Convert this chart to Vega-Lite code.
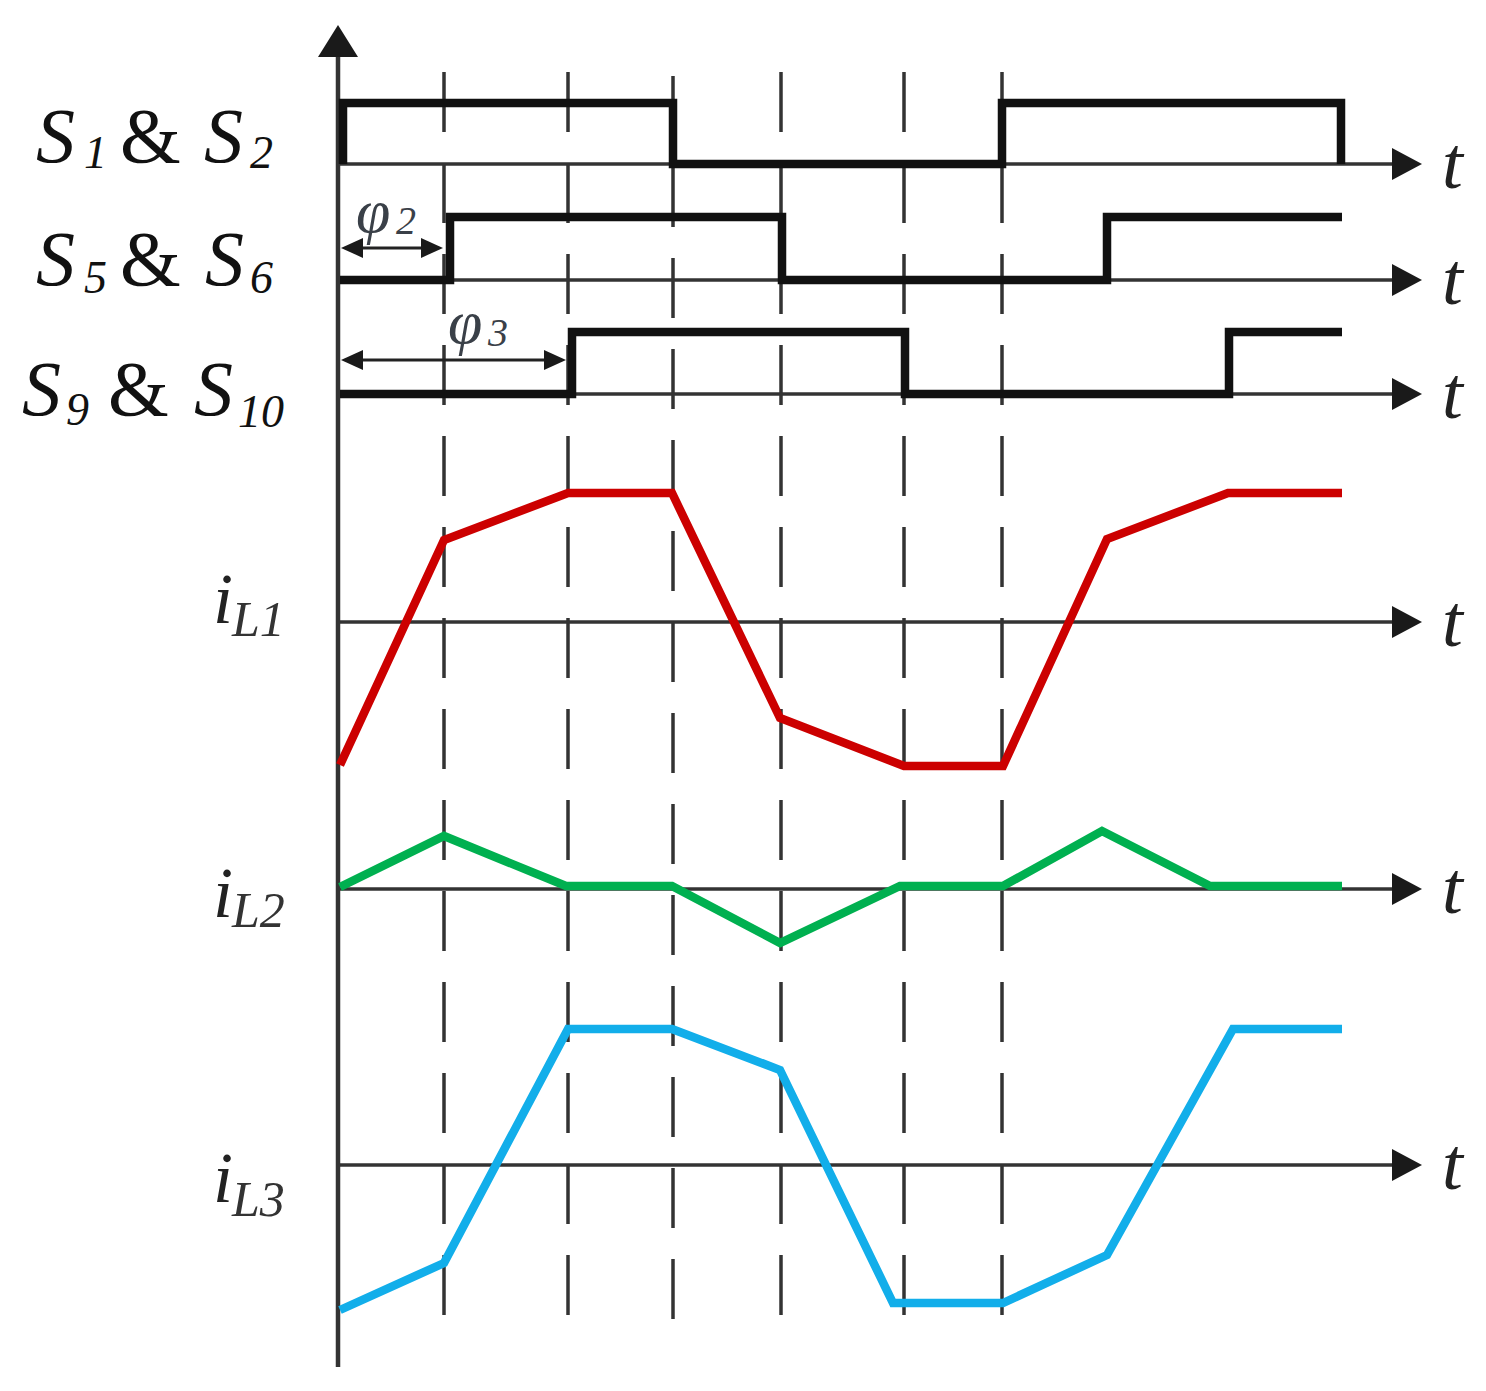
{
  "$schema": "https://vega.github.io/schema/vega-lite/v6.json",
  "width": 1486,
  "height": 1391,
  "autosize": {"type": "fit", "contains": "padding"},
  "padding": 0,
  "background": "white",
  "config": {"view": {"stroke": null}, "text": {"font": "Times New Roman, Liberation Serif, Tinos, serif"}},
  "datasets": {
    "haxes": [
      {"x": 338, "x2": 1400, "y": 164},
      {"x": 338, "x2": 1400, "y": 280},
      {"x": 338, "x2": 1400, "y": 394},
      {"x": 338, "x2": 1400, "y": 622},
      {"x": 338, "x2": 1400, "y": 889},
      {"x": 338, "x2": 1400, "y": 1165}
    ],
    "vaxis": [{"x": 338, "y": 45, "y2": 1367}],
    "dashed": [
      {"x": 444, "y": 72, "y2": 1320},
      {"x": 568, "y": 72, "y2": 1320},
      {"x": 673, "y": 76, "y2": 1320},
      {"x": 781, "y": 72, "y2": 1320},
      {"x": 904, "y": 72, "y2": 1320},
      {"x": 1002, "y": 72, "y2": 1320}
    ],
    "phiarrows": [
      {"x": 348, "x2": 436, "y": 248},
      {"x": 348, "x2": 560, "y": 360}
    ],
    "signals": [
      {"s": "S1", "i": 0, "x": 343, "y": 164},
      {"s": "S1", "i": 1, "x": 343, "y": 103},
      {"s": "S1", "i": 2, "x": 673, "y": 103},
      {"s": "S1", "i": 3, "x": 673, "y": 164},
      {"s": "S1", "i": 4, "x": 1002, "y": 164},
      {"s": "S1", "i": 5, "x": 1002, "y": 103},
      {"s": "S1", "i": 6, "x": 1341, "y": 103},
      {"s": "S1", "i": 7, "x": 1341, "y": 164},
      {"s": "S5", "i": 0, "x": 340, "y": 280},
      {"s": "S5", "i": 1, "x": 450, "y": 280},
      {"s": "S5", "i": 2, "x": 450, "y": 217},
      {"s": "S5", "i": 3, "x": 782, "y": 217},
      {"s": "S5", "i": 4, "x": 782, "y": 280},
      {"s": "S5", "i": 5, "x": 1107, "y": 280},
      {"s": "S5", "i": 6, "x": 1107, "y": 217},
      {"s": "S5", "i": 7, "x": 1342, "y": 217},
      {"s": "S9", "i": 0, "x": 340, "y": 394},
      {"s": "S9", "i": 1, "x": 572, "y": 394},
      {"s": "S9", "i": 2, "x": 572, "y": 332},
      {"s": "S9", "i": 3, "x": 905, "y": 332},
      {"s": "S9", "i": 4, "x": 905, "y": 394},
      {"s": "S9", "i": 5, "x": 1229, "y": 394},
      {"s": "S9", "i": 6, "x": 1229, "y": 332},
      {"s": "S9", "i": 7, "x": 1342, "y": 332}
    ],
    "currents": [
      {"s": "iL1", "i": 0, "x": 340, "y": 765},
      {"s": "iL1", "i": 1, "x": 444, "y": 540},
      {"s": "iL1", "i": 2, "x": 568, "y": 493},
      {"s": "iL1", "i": 3, "x": 672, "y": 493},
      {"s": "iL1", "i": 4, "x": 780, "y": 718},
      {"s": "iL1", "i": 5, "x": 904, "y": 766},
      {"s": "iL1", "i": 6, "x": 1003, "y": 766},
      {"s": "iL1", "i": 7, "x": 1107, "y": 539},
      {"s": "iL1", "i": 8, "x": 1228, "y": 493},
      {"s": "iL1", "i": 9, "x": 1342, "y": 493},
      {"s": "iL2", "i": 0, "x": 340, "y": 887},
      {"s": "iL2", "i": 1, "x": 444, "y": 836},
      {"s": "iL2", "i": 2, "x": 566, "y": 886},
      {"s": "iL2", "i": 3, "x": 672, "y": 886},
      {"s": "iL2", "i": 4, "x": 780, "y": 943},
      {"s": "iL2", "i": 5, "x": 900, "y": 886},
      {"s": "iL2", "i": 6, "x": 1003, "y": 886},
      {"s": "iL2", "i": 7, "x": 1102, "y": 831},
      {"s": "iL2", "i": 8, "x": 1210, "y": 886},
      {"s": "iL2", "i": 9, "x": 1342, "y": 886},
      {"s": "iL3", "i": 0, "x": 340, "y": 1310},
      {"s": "iL3", "i": 1, "x": 444, "y": 1263},
      {"s": "iL3", "i": 2, "x": 568, "y": 1029},
      {"s": "iL3", "i": 3, "x": 672, "y": 1029},
      {"s": "iL3", "i": 4, "x": 780, "y": 1070},
      {"s": "iL3", "i": 5, "x": 893, "y": 1303},
      {"s": "iL3", "i": 6, "x": 1003, "y": 1303},
      {"s": "iL3", "i": 7, "x": 1107, "y": 1255},
      {"s": "iL3", "i": 8, "x": 1233, "y": 1029},
      {"s": "iL3", "i": 9, "x": 1342, "y": 1029}
    ],
    "harrows": [
      {"x": 1407, "y": 164},
      {"x": 1407, "y": 280},
      {"x": 1407, "y": 394},
      {"x": 1407, "y": 622},
      {"x": 1407, "y": 889},
      {"x": 1407, "y": 1165}
    ],
    "varrow": [{"x": 338, "y": 41}],
    "rarrows": [{"x": 432, "y": 248}, {"x": 555, "y": 360}],
    "larrows": [{"x": 352, "y": 248}, {"x": 352, "y": 360}],
    "mainS": [
      {"x": 36, "y": 162, "text": "S"},
      {"x": 204, "y": 162, "text": "S"},
      {"x": 36, "y": 285, "text": "S"},
      {"x": 205, "y": 285, "text": "S"},
      {"x": 22, "y": 415, "text": "S"},
      {"x": 194, "y": 415, "text": "S"}
    ],
    "amp": [
      {"x": 120, "y": 162, "text": "&"},
      {"x": 120, "y": 285, "text": "&"},
      {"x": 108, "y": 415, "text": "&"}
    ],
    "subS": [
      {"x": 84, "y": 168, "text": "1"},
      {"x": 250, "y": 168, "text": "2"},
      {"x": 84, "y": 293, "text": "5"},
      {"x": 250, "y": 293, "text": "6"},
      {"x": 66, "y": 425, "text": "9"},
      {"x": 238, "y": 427, "text": "10"}
    ],
    "ilab": [
      {"x": 213, "y": 623, "text": "i"},
      {"x": 213, "y": 917, "text": "i"},
      {"x": 213, "y": 1202, "text": "i"}
    ],
    "isub": [
      {"x": 232, "y": 636, "text": "L1"},
      {"x": 232, "y": 927, "text": "L2"},
      {"x": 232, "y": 1216, "text": "L3"}
    ],
    "tlab": [
      {"x": 1442, "y": 188, "text": "t"},
      {"x": 1442, "y": 304, "text": "t"},
      {"x": 1442, "y": 418, "text": "t"},
      {"x": 1442, "y": 646, "text": "t"},
      {"x": 1442, "y": 913, "text": "t"},
      {"x": 1442, "y": 1189, "text": "t"}
    ],
    "phi": [
      {"x": 356, "y": 232, "text": "φ"},
      {"x": 448, "y": 343, "text": "φ"}
    ],
    "phisub": [
      {"x": 396, "y": 234, "text": "2"},
      {"x": 488, "y": 346, "text": "3"}
    ]
  },
  "encoding": {
    "x": {"field": "x", "type": "quantitative", "scale": {"domain": [0, 1486], "nice": false, "zero": false}, "axis": null},
    "y": {"field": "y", "type": "quantitative", "scale": {"domain": [0, 1391], "nice": false, "zero": false, "reverse": true}, "axis": null}
  },
  "layer": [
    {
      "data": {"name": "dashed"},
      "mark": {"type": "rule", "color": "#333333", "strokeWidth": 3.5, "strokeDash": [60, 31]},
      "encoding": {"y2": {"field": "y2"}}
    },
    {
      "data": {"name": "haxes"},
      "mark": {"type": "rule", "color": "#333333", "strokeWidth": 3.5},
      "encoding": {"x2": {"field": "x2"}}
    },
    {
      "data": {"name": "vaxis"},
      "mark": {"type": "rule", "color": "#333333", "strokeWidth": 4.5},
      "encoding": {"y2": {"field": "y2"}}
    },
    {
      "data": {"name": "phiarrows"},
      "mark": {"type": "rule", "color": "#222222", "strokeWidth": 3},
      "encoding": {"x2": {"field": "x2"}}
    },
    {
      "data": {"name": "signals"},
      "mark": {"type": "line", "color": "#111111", "strokeWidth": 8.5, "strokeJoin": "miter", "strokeCap": "butt"},
      "encoding": {"detail": {"field": "s"}, "order": {"field": "i", "type": "quantitative"}}
    },
    {
      "data": {"name": "currents"},
      "mark": {"type": "line", "strokeWidth": 8.5, "strokeJoin": "miter", "strokeCap": "butt"},
      "encoding": {
        "color": {"field": "s", "type": "nominal", "scale": {"domain": ["iL1", "iL2", "iL3"], "range": ["#cc0000", "#00b050", "#12aeea"]}, "legend": null},
        "order": {"field": "i", "type": "quantitative"}
      }
    },
    {
      "data": {"name": "harrows"},
      "mark": {"type": "point", "shape": "M1,0L-1,-1.07L-1,1.07Z", "size": 900, "filled": true, "color": "#1a1a1a", "opacity": 1, "strokeWidth": 0}
    },
    {
      "data": {"name": "varrow"},
      "mark": {"type": "point", "shape": "M0,-1L-1.25,1L1.25,1Z", "size": 1024, "filled": true, "color": "#1a1a1a", "opacity": 1, "strokeWidth": 0}
    },
    {
      "data": {"name": "rarrows"},
      "mark": {"type": "point", "shape": "M1,0L-1,-0.9L-1,0.9Z", "size": 484, "filled": true, "color": "#1a1a1a", "opacity": 1, "strokeWidth": 0}
    },
    {
      "data": {"name": "larrows"},
      "mark": {"type": "point", "shape": "M-1,0L1,-0.9L1,0.9Z", "size": 484, "filled": true, "color": "#1a1a1a", "opacity": 1, "strokeWidth": 0}
    },
    {
      "data": {"name": "mainS"},
      "mark": {"type": "text", "align": "left", "baseline": "alphabetic", "fontStyle": "italic", "fontSize": 78, "color": "#111111"},
      "encoding": {"text": {"field": "text"}}
    },
    {
      "data": {"name": "amp"},
      "mark": {"type": "text", "align": "left", "baseline": "alphabetic", "fontSize": 78, "color": "#111111"},
      "encoding": {"text": {"field": "text"}}
    },
    {
      "data": {"name": "subS"},
      "mark": {"type": "text", "align": "left", "baseline": "alphabetic", "fontStyle": "italic", "fontSize": 46, "color": "#111111"},
      "encoding": {"text": {"field": "text"}}
    },
    {
      "data": {"name": "ilab"},
      "mark": {"type": "text", "align": "left", "baseline": "alphabetic", "fontStyle": "italic", "fontSize": 72, "color": "#222222"},
      "encoding": {"text": {"field": "text"}}
    },
    {
      "data": {"name": "isub"},
      "mark": {"type": "text", "align": "left", "baseline": "alphabetic", "fontStyle": "italic", "fontSize": 50, "color": "#333333"},
      "encoding": {"text": {"field": "text"}}
    },
    {
      "data": {"name": "tlab"},
      "mark": {"type": "text", "align": "left", "baseline": "alphabetic", "fontStyle": "italic", "fontSize": 75, "color": "#222222"},
      "encoding": {"text": {"field": "text"}}
    },
    {
      "data": {"name": "phi"},
      "mark": {"type": "text", "align": "left", "baseline": "alphabetic", "fontStyle": "italic", "fontSize": 62, "color": "#3a4048"},
      "encoding": {"text": {"field": "text"}}
    },
    {
      "data": {"name": "phisub"},
      "mark": {"type": "text", "align": "left", "baseline": "alphabetic", "fontStyle": "italic", "fontSize": 40, "color": "#3a4048"},
      "encoding": {"text": {"field": "text"}}
    }
  ]
}
